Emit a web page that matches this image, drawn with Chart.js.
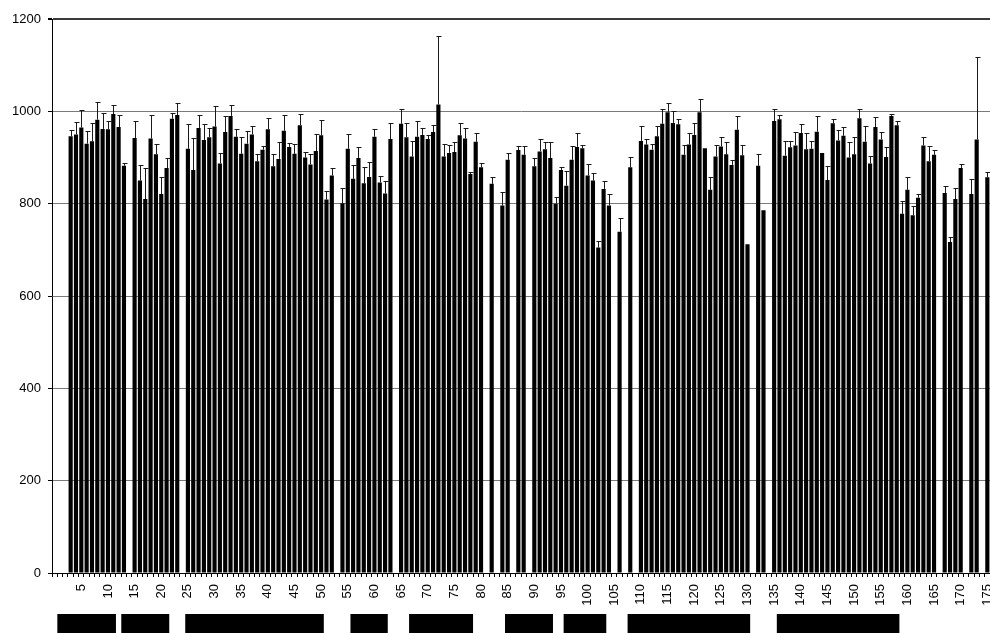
<!DOCTYPE html>
<html>
<head>
<meta charset="utf-8">
<script src="https://cdn.jsdelivr.net/npm/chart.js@4/dist/chart.umd.min.js"></script>
<style>
  body { margin: 0; background: #fff; }
  #wrap { width: 990px; height: 633px; }
</style>
</head>
<body>
<div id="wrap"><canvas id="chart" width="990" height="633"></canvas></div>
<script>
// categorias (posiciones 0..175)
const categories = [
  0, 1, 2, 3, 4, 5, 6, 7, 8, 9,
  10, 11, 12, 13, 14, 15, 16, 17, 18, 19,
  20, 21, 22, 23, 24, 25, 26, 27, 28, 29,
  30, 31, 32, 33, 34, 35, 36, 37, 38, 39,
  40, 41, 42, 43, 44, 45, 46, 47, 48, 49,
  50, 51, 52, 53, 54, 55, 56, 57, 58, 59,
  60, 61, 62, 63, 64, 65, 66, 67, 68, 69,
  70, 71, 72, 73, 74, 75, 76, 77, 78, 79,
  80, 81, 82, 83, 84, 85, 86, 87, 88, 89,
  90, 91, 92, 93, 94, 95, 96, 97, 98, 99,
  100, 101, 102, 103, 104, 105, 106, 107, 108, 109,
  110, 111, 112, 113, 114, 115, 116, 117, 118, 119,
  120, 121, 122, 123, 124, 125, 126, 127, 128, 129,
  130, 131, 132, 133, 134, 135, 136, 137, 138, 139,
  140, 141, 142, 143, 144, 145, 146, 147, 148, 149,
  150, 151, 152, 153, 154, 155, 156, 157, 158, 159,
  160, 161, 162, 163, 164, 165, 166, 167, 168, 169,
  170, 171, 172, 173, 174, 175
];

// valores de las barras (null = sin barra)
const values = [
  null, null, null, 946, 950, 965, 930, 935, 982, 962,
  961, 994, 966, 882, null, 942, 850, 810, 941, 907,
  821, 877, 984, 992, null, 919, 873, 964, 938, 944,
  967, 887, 955, 990, 945, 908, 930, 950, 892, 917,
  961, 881, 897, 958, 923, 908, 970, 900, 885, 914,
  948, 809, 861, null, 801, 919, 854, 899, 844, 858,
  945, 846, 822, 940, null, 973, 944, 902, 945, 949,
  940, 955, 1015, 902, 910, 912, 948, 941, 864, 934,
  879, null, 843, null, 796, 895, null, 916, 906, null,
  881, 913, 918, 899, 800, 873, 839, 895, 923, 920,
  861, 850, 705, 832, 796, null, 739, null, 879, null,
  936, 928, 917, 946, 973, 998, 975, 972, 906, 928,
  949, 998, 920, 830, 902, 924, 907, 884, 960, 905,
  712, null, 882, 786, null, 979, 983, 904, 922, 926,
  953, 918, 919, 956, 910, 851, 974, 937, 947, 900,
  907, 985, 934, 887, 966, 939, 901, 990, 970, 778,
  830, 775, 813, 926, 892, 906, null, 823, 717, 810,
  877, null, 821, 939, null, 857
];

// barras de error (solo hacia arriba)
const errors = [
  null, null, null, 13, 27, 38, 27, 39, 38, 34,
  17, 19, 26, 6, null, 38, 33, 67, 50, 23,
  36, 21, 12, 26, null, 53, 70, 27, 35, 19,
  45, 22, 35, 23, 16, 36, 27, 19, 16, 8,
  25, 26, 37, 35, 9, 21, 25, 12, 22, 36,
  33, 19, 16, null, 33, 32, 29, 23, 35, 32,
  17, 13, 28, 35, null, 32, 30, 33, 34, 14,
  9, 15, 148, 27, 17, 21, 26, 22, 5, 18,
  9, null, 14, null, 30, 14, null, 8, 19, null,
  18, 28, 15, 35, 15, 6, 31, 30, 29, 6,
  26, 17, 14, 17, 24, null, 31, null, 23, null,
  32, 13, 13, 22, 31, 21, 25, 11, 22, 24,
  25, 28, 0, 28, 25, 20, 27, 10, 29, 22,
  0, null, 26, 0, null, 27, 10, 32, 14, 30,
  19, 34, 17, 34, 0, 31, 9, 23, 18, 33,
  37, 20, 34, 16, 21, 16, 22, 4, 9, 27,
  27, 20, 7, 18, 33, 11, null, 15, 10, 24,
  10, null, 32, 179, null, 12
];

// etiquetas visibles del eje x
const tickLabels = [5, 10, 15, 20, 25, 30, 35, 40, 45, 50, 55, 60, 65, 70, 75, 80, 85,
  90, 95, 100, 105, 110, 115, 120, 125, 130, 135, 140, 145, 150, 155, 160, 165, 170, 175];
const yTicks = [0, 200, 400, 600, 800, 1000, 1200];

// tramos marcados debajo del eje (primera y ultima categoria)
const segStart = [1, 13, 25, 56, 67, 85, 96, 108, 136];
const segEnd = [11, 21, 50, 62, 78, 93, 103, 130, 158];

const FONT = "'Liberation Sans', Arial, sans-serif";

// dibuja las barras de error
const errorBarPlugin = {
    id: 'errorBars',
    afterDatasetsDraw(chart) {
        const x = chart.scales.x;
        const y = chart.scales.y;
        const ctx = chart.ctx;
        ctx.save();
        ctx.strokeStyle = '#1a1a1a';
        ctx.lineWidth = 1;
        values.forEach((v, i) => {
            const e = errors[i];
            if (v === null || !e) return;
            const px = Math.round(x.getPixelForValue(i)) + 0.5;
            const yb = y.getPixelForValue(v);
            const yt = Math.round(y.getPixelForValue(v + e)) + 0.5;
            ctx.beginPath();
            ctx.moveTo(px, yb);
            ctx.lineTo(px, yt);
            ctx.moveTo(px - 2, yt);
            ctx.lineTo(px + 3, yt);
            ctx.stroke();
        });
        ctx.restore();
    }
};

// rectangulos negros bajo las etiquetas
const segmentPlugin = {
    id: 'segments',
    afterDraw(chart) {
        const x = chart.scales.x;
        const ctx = chart.ctx;
        const half = (x.getPixelForValue(1) - x.getPixelForValue(0)) / 2;
        ctx.save();
        ctx.fillStyle = '#000';
        segStart.forEach((s, k) => {
            const x0 = x.getPixelForValue(s) - half;
            const x1 = x.getPixelForValue(segEnd[k]) + half;
            ctx.fillRect(x0, 614, x1 - x0, 19);
        });
        ctx.restore();
    }
};

document.addEventListener('DOMContentLoaded', () => {
    const ctx = document.getElementById('chart').getContext('2d');
    new Chart(ctx, {
        type: 'bar',
        data: {
            labels: categories,
            datasets: [{
                data: values,
                backgroundColor: '#000',
                borderWidth: 0,
                barPercentage: 0.78,
                categoryPercentage: 1.0
            }]
        },
        options: {
            responsive: false,
            animation: false,
            layout: { padding: { top: 19, right: 0, bottom: 0, left: 0 } },
            plugins: {
                legend: { display: false },
                tooltip: { enabled: false }
            },
            scales: {
                x: {
                    offset: true,
                    afterFit: (scale) => {
                        scale.height = 60;
                        scale.paddingLeft = 0;
                        scale.paddingRight = 0;
                    },
                    grid: {
                        offset: true,
                        drawOnChartArea: false,
                        tickLength: 4,
                        tickColor: '#000',
                        tickWidth: 1
                    },
                    border: { color: '#000', width: 1 },
                    ticks: {
                        autoSkip: false,
                        maxRotation: 90,
                        minRotation: 90,
                        padding: 7,
                        color: '#000',
                        font: { family: FONT, size: 13 },
                        callback: (val, i) => tickLabels.includes(categories[i]) ? String(categories[i]) : ''
                    }
                },
                y: {
                    min: 0,
                    max: 1200,
                    afterFit: (scale) => {
                        scale.width = 52;
                        scale.paddingTop = 0;
                        scale.paddingBottom = 0;
                    },
                    afterBuildTicks: (scale) => { scale.ticks = yTicks.map(v => ({ value: v })); },
                    grid: {
                        color: (c) => c.tick && c.tick.value === 1200 ? '#3a3a3a' : '#7a7a7a',
                        lineWidth: (c) => c.tick && c.tick.value === 1200 ? 2 : 1,
                        tickColor: '#000',
                        tickLength: 4
                    },
                    border: { color: '#000', width: 1 },
                    ticks: {
                        padding: 7,
                        color: '#000',
                        font: { family: FONT, size: 13 },
                        callback: (v) => String(v)
                    }
                }
            }
        },
        plugins: [errorBarPlugin, segmentPlugin]
    });
});
</script>
</body>
</html>
